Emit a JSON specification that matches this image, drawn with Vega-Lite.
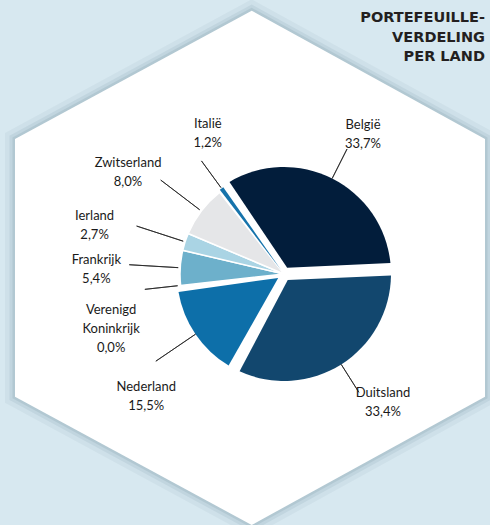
{
  "$schema": "https://vega.github.io/schema/vega-lite/v6.json",
  "width": 412,
  "height": 500,
  "autosize": "none",
  "padding": {"left": 78, "top": 24, "right": 0, "bottom": 1},
  "background": "#d7e8f0",
  "config": {
    "view": {"stroke": null},
    "text": {"font": "Lato", "fontSize": 13, "color": "#1a1a1a", "lineBreak": "|", "lineHeight": 19, "align": "center", "baseline": "middle"}
  },
  "title": {
    "text": ["PORTEFEUILLE-", "VERDELING", "PER LAND"],
    "anchor": "end",
    "frame": "group",
    "align": "right",
    "baseline": "top",
    "font": "DejaVu Sans",
    "fontSize": 14.5,
    "fontWeight": "bold",
    "color": "#231f20",
    "lineHeight": 19.5,
    "offset": -12,
    "dx": -5,
    "dy": 82
  },
  "data": {
    "values": [
      {"land": "Duitsland", "aandeel": 33.4, "volgorde": 1},
      {"land": "Nederland", "aandeel": 15.5, "volgorde": 2},
      {"land": "Verenigd Koninkrijk", "aandeel": 0.0, "volgorde": 3},
      {"land": "Frankrijk", "aandeel": 5.4, "volgorde": 4},
      {"land": "Ierland", "aandeel": 2.7, "volgorde": 5},
      {"land": "Zwitserland", "aandeel": 8.0, "volgorde": 6},
      {"land": "Italië", "aandeel": 1.2, "volgorde": 7},
      {"land": "België", "aandeel": 33.7, "volgorde": 8}
    ]
  },
  "transform": [
    {"window": [{"op": "sum", "field": "aandeel", "as": "cum"}], "sort": [{"field": "volgorde", "order": "ascending"}], "frame": [null, 0]},
    {"calculate": "datum.cum - datum.aandeel / 2", "as": "mid"},
    {"calculate": "replace(datum.land, ' ', '|') + '|' + replace(format(datum.aandeel, '.1f'), '.', ',') + '%'", "as": "label"}
  ],
  "layer": [
    {
      "data": {"values": [{"h": 1}]},
      "mark": {"type": "point", "shape": "M-0.323,-2.633L2.01,-1.35L2.01,1.227L-0.323,2.51L-2.69,1.227L-2.69,-1.35Z", "size": 40000, "filled": false, "stroke": "#5f7f8f", "strokeWidth": 20, "strokeOpacity": 0.07, "strokeJoin": "miter", "opacity": 1},
      "encoding": {}
    },
    {
      "data": {"values": [{"h": 1}]},
      "mark": {"type": "point", "shape": "M-0.323,-2.633L2.01,-1.35L2.01,1.227L-0.323,2.51L-2.69,1.227L-2.69,-1.35Z", "size": 40000, "filled": false, "stroke": "#5f7f8f", "strokeWidth": 11, "strokeOpacity": 0.11, "strokeJoin": "miter", "opacity": 1},
      "encoding": {}
    },
    {
      "data": {"values": [{"h": 1}]},
      "mark": {"type": "point", "shape": "M-0.323,-2.633L2.01,-1.35L2.01,1.227L-0.323,2.51L-2.69,1.227L-2.69,-1.35Z", "size": 40000, "filled": false, "stroke": "#5f7f8f", "strokeWidth": 5, "strokeOpacity": 0.15, "strokeJoin": "miter", "opacity": 1},
      "encoding": {}
    },
    {
      "data": {"values": [{"h": 1}]},
      "mark": {"type": "point", "shape": "M-0.323,-2.633L2.01,-1.35L2.01,1.227L-0.323,2.51L-2.69,1.227L-2.69,-1.35Z", "size": 40000, "filled": true, "fill": "#ffffff", "strokeWidth": 0, "opacity": 1},
      "encoding": {}
    },
    {
      "mark": {"type": "arc", "outerRadius": 104, "innerRadius": 0, "stroke": "#ffffff", "strokeWidth": 1.5},
      "encoding": {
        "theta": {"field": "aandeel", "type": "quantitative", "stack": true, "scale": {"range": [1.527, 7.810]}},
        "order": {"field": "volgorde", "type": "quantitative"},
        "color": {"field": "land", "type": "nominal", "legend": null,
          "scale": {"domain": ["Duitsland", "Nederland", "Verenigd Koninkrijk", "Frankrijk", "Ierland", "Zwitserland", "Italië", "België"],
                    "range": ["#12476e", "#0d6fa9", "#ffffff", "#6db0cb", "#aad4e4", "#e5e6e8", "#1673ab", "#021d3b"]}},
        "opacity": {"condition": {"test": "indexof(['Verenigd Koninkrijk','Frankrijk','Ierland','Zwitserland'], datum.land) >= 0", "value": 1}, "value": 0}
      }
    },
    {
      "mark": {"type": "arc", "outerRadius": 107, "innerRadius": 7, "padAngle": 0.116},
      "encoding": {
        "theta": {"field": "aandeel", "type": "quantitative", "stack": true, "scale": {"range": [1.527, 7.810]}},
        "order": {"field": "volgorde", "type": "quantitative"},
        "color": {"field": "land", "type": "nominal", "legend": null},
        "opacity": {"condition": {"test": "indexof(['België','Duitsland','Nederland'], datum.land) >= 0", "value": 1}, "value": 0}
      }
    },
    {
      "mark": {"type": "arc", "outerRadius": 106, "innerRadius": 5, "padAngle": 0.035},
      "encoding": {
        "theta": {"field": "aandeel", "type": "quantitative", "stack": true, "scale": {"range": [1.527, 7.810]}},
        "order": {"field": "volgorde", "type": "quantitative"},
        "color": {"field": "land", "type": "nominal", "legend": null},
        "opacity": {"condition": {"test": "datum.land === 'Italië'", "value": 1}, "value": 0}
      }
    },
    {
      "transform": [{"filter": "indexof(['Frankrijk','Ierland','Zwitserland'], datum.land) >= 0"}],
      "mark": {"type": "arc", "innerRadius": 106, "outerRadius": 155, "filled": false, "stroke": "#222222", "strokeWidth": 0.8},
      "encoding": {
        "theta": {"field": "mid", "type": "quantitative", "scale": {"range": [1.527, 7.810]}},
        "theta2": {"field": "mid"}
      }
    },
    {
      "transform": [{"filter": "datum.land === 'Nederland'"}],
      "mark": {"type": "arc", "innerRadius": 107, "outerRadius": 155, "filled": false, "stroke": "#222222", "strokeWidth": 0.8},
      "encoding": {
        "theta": {"field": "mid", "type": "quantitative", "scale": {"range": [1.527, 7.810]}},
        "theta2": {"field": "mid"}
      }
    },
    {
      "transform": [{"filter": "indexof(['België','Duitsland','Italië','Verenigd Koninkrijk'], datum.land) >= 0"}],
      "mark": {"type": "arc", "innerRadius": 107, "outerRadius": 140, "filled": false, "stroke": "#222222", "strokeWidth": 0.8},
      "encoding": {
        "theta": {"field": "mid", "type": "quantitative", "scale": {"range": [1.527, 7.810]}},
        "theta2": {"field": "mid"}
      }
    },
    {
      "transform": [{"filter": "datum.land === 'Italië'"}],
      "mark": {"type": "text", "dx": 19, "dy": -20},
      "encoding": {"theta": {"field": "mid", "type": "quantitative", "scale": {"range": [1.527, 7.810]}}, "radius": {"value": 161.5}, "text": {"field": "label", "type": "nominal"}}
    },
    {
      "transform": [{"filter": "datum.land === 'België'"}],
      "mark": {"type": "text", "dx": 7, "dy": -6},
      "encoding": {"theta": {"field": "mid", "type": "quantitative", "scale": {"range": [1.527, 7.810]}}, "radius": {"value": 160}, "text": {"field": "label", "type": "nominal"}}
    },
    {
      "transform": [{"filter": "datum.land === 'Zwitserland'"}],
      "mark": {"type": "text", "dx": -8, "dy": 2},
      "encoding": {"theta": {"field": "mid", "type": "quantitative", "scale": {"range": [1.527, 7.810]}}, "radius": {"value": 186}, "text": {"field": "label", "type": "nominal"}}
    },
    {
      "transform": [{"filter": "datum.land === 'Ierland'"}],
      "mark": {"type": "text", "dx": -4, "dy": 2},
      "encoding": {"theta": {"field": "mid", "type": "quantitative", "scale": {"range": [1.527, 7.810]}}, "radius": {"value": 195}, "text": {"field": "label", "type": "nominal"}}
    },
    {
      "transform": [{"filter": "datum.land === 'Frankrijk'"}],
      "mark": {"type": "text", "dx": 0, "dy": -3},
      "encoding": {"theta": {"field": "mid", "type": "quantitative", "scale": {"range": [1.527, 7.810]}}, "radius": {"value": 188}, "text": {"field": "label", "type": "nominal"}}
    },
    {
      "transform": [{"filter": "datum.land === 'Verenigd Koninkrijk'"}],
      "mark": {"type": "text", "dx": 8, "dy": 16},
      "encoding": {"theta": {"field": "mid", "type": "quantitative", "scale": {"range": [1.527, 7.810]}}, "radius": {"value": 182}, "text": {"field": "label", "type": "nominal"}}
    },
    {
      "transform": [{"filter": "datum.land === 'Nederland'"}],
      "mark": {"type": "text", "dx": 14, "dy": 10},
      "encoding": {"theta": {"field": "mid", "type": "quantitative", "scale": {"range": [1.527, 7.810]}}, "radius": {"value": 183.5}, "text": {"field": "label", "type": "nominal"}}
    },
    {
      "transform": [{"filter": "datum.land === 'Duitsland'"}],
      "mark": {"type": "text", "dx": 12, "dy": -18},
      "encoding": {"theta": {"field": "mid", "type": "quantitative", "scale": {"range": [1.527, 7.810]}}, "radius": {"value": 162.6}, "text": {"field": "label", "type": "nominal"}}
    }
  ]
}
